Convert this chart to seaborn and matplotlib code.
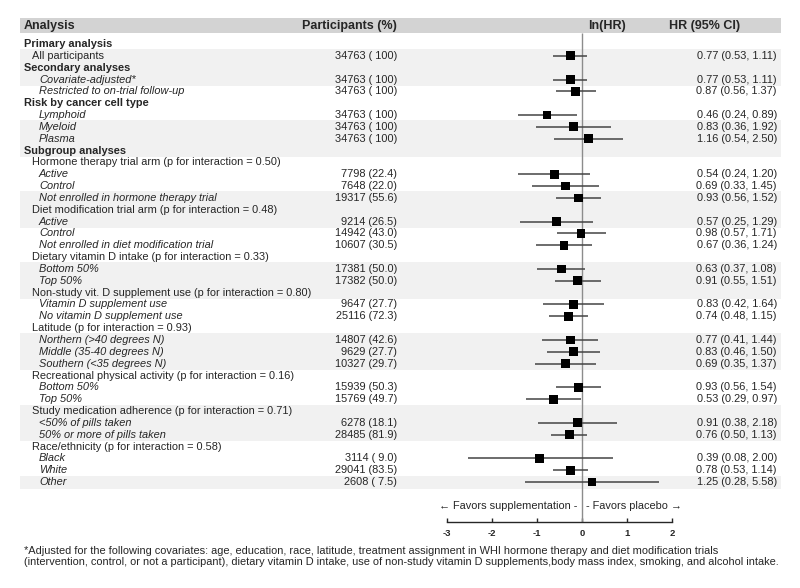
import numpy as np
import pandas as pd
import matplotlib
matplotlib.use("Agg")
import matplotlib.pyplot as plt
import matplotlib.transforms as mtransforms
import seaborn as sns

sns.set_style("white")
plt.rcParams['font.family'] = ['Liberation Sans', 'DejaVu Sans']

# ---- data ----
labels = [
    "Primary analysis", "All participants",
    "Secondary analyses", "Covariate-adjusted*", "Restricted to on-trial follow-up",
    "Risk by cancer cell type", "Lymphoid", "Myeloid", "Plasma",
    "Subgroup analyses",
    "Hormone therapy trial arm (p for interaction = 0.50)",
    "Active", "Control", "Not enrolled in hormone therapy trial",
    "Diet modification trial arm (p for interaction = 0.48)",
    "Active", "Control", "Not enrolled in diet modification trial",
    "Dietary vitamin D intake (p for interaction = 0.33)",
    "Bottom 50%", "Top 50%",
    "Non-study vit. D supplement use (p for interaction = 0.80)",
    "Vitamin D supplement use", "No vitamin D supplement use",
    "Latitude (p for interaction = 0.93)",
    "Northern (>40 degrees N)", "Middle (35-40 degrees N)", "Southern (<35 degrees N)",
    "Recreational physical activity (p for interaction = 0.16)",
    "Bottom 50%", "Top 50%",
    "Study medication adherence (p for interaction = 0.71)",
    "<50% of pills taken", "50% or more of pills taken",
    "Race/ethnicity (p for interaction = 0.58)",
    "Black", "White", "Other",
]
# b = bold heading, n = plain (indented), i = italic item
styles = list("bnbiibiiibniiiniiiniiniiniiiniiniiniii")

participants = [
    "", "34763 ( 100)", "", "34763 ( 100)", "34763 ( 100)",
    "", "34763 ( 100)", "34763 ( 100)", "34763 ( 100)", "",
    "", "7798 (22.4)", "7648 (22.0)", "19317 (55.6)",
    "", "9214 (26.5)", "14942 (43.0)", "10607 (30.5)",
    "", "17381 (50.0)", "17382 (50.0)",
    "", "9647 (27.7)", "25116 (72.3)",
    "", "14807 (42.6)", "9629 (27.7)", "10327 (29.7)",
    "", "15939 (50.3)", "15769 (49.7)",
    "", "6278 (18.1)", "28485 (81.9)",
    "", "3114 ( 9.0)", "29041 (83.5)", "2608 ( 7.5)",
]

nan = np.nan
hr = [nan, 0.77, nan, 0.77, 0.87, nan, 0.46, 0.83, 1.16, nan,
      nan, 0.54, 0.69, 0.93, nan, 0.57, 0.98, 0.67, nan, 0.63, 0.91,
      nan, 0.83, 0.74, nan, 0.77, 0.83, 0.69, nan, 0.93, 0.53,
      nan, 0.91, 0.76, nan, 0.39, 0.78, 1.25]
ci_low = [nan, 0.53, nan, 0.53, 0.56, nan, 0.24, 0.36, 0.54, nan,
          nan, 0.24, 0.33, 0.56, nan, 0.25, 0.57, 0.36, nan, 0.37, 0.55,
          nan, 0.42, 0.48, nan, 0.41, 0.46, 0.35, nan, 0.56, 0.29,
          nan, 0.38, 0.50, nan, 0.08, 0.53, 0.28]
ci_high = [nan, 1.11, nan, 1.11, 1.37, nan, 0.89, 1.92, 2.50, nan,
           nan, 1.20, 1.45, 1.52, nan, 1.29, 1.71, 1.24, nan, 1.08, 1.51,
           nan, 1.64, 1.15, nan, 1.44, 1.50, 1.37, nan, 1.54, 0.97,
           nan, 2.18, 1.13, nan, 2.00, 1.14, 5.58]

x_ticks = [-3, -2, -1, 0, 1, 2]

df = pd.DataFrame({"label": labels, "style": styles, "n": participants,
                   "hr": hr, "lo": ci_low, "hi": ci_high})
df["row"] = np.arange(len(df))
df["lnhr"] = np.log(df["hr"])
df["lnlo"] = np.log(df["lo"])
df["lnhi"] = np.log(df["hi"])

# ---- layout (pixel geometry of an 800x588 canvas) ----
W, H = 800, 588
y0, dy = 44, 11.84          # first row centre / row pitch in px
x0, dx = 582, 45            # ln(HR)=0 position / px per unit
FS = 7.9

fig = plt.figure(figsize=(8, 5.88), dpi=100)
ax = fig.add_axes([0, 0, 1, 1])
ax.set_xlim(-x0 / dx, (W - x0) / dx)
ax.set_ylim((H - y0) / dy, -y0 / dy)
ax.patch.set_alpha(0)

def prow(px):
    return (px - y0) / dy

tr = mtransforms.blended_transform_factory(ax.transAxes, ax.transData)
fx = lambda px: px / W

# header band and zebra stripes
ax.axhspan(prow(18), prow(33), xmin=fx(20), xmax=fx(781), color="#d3d3d3", lw=0, zorder=0)
for r in df["row"]:
    if ((r - 1) // 3) % 2 == 0 and r >= 1:
        ax.axhspan(r - 0.55, r + 0.55, xmin=fx(20), xmax=fx(781), color="#f1f1f1", lw=0, zorder=0)

hdr_y = prow(25.5)
hkw = dict(transform=tr, fontsize=9, fontweight="bold", va="center")
ax.text(fx(24), hdr_y, "Analysis", ha="left", **hkw)
ax.text(fx(397), hdr_y, "Participants (%)", ha="right", **hkw)
ax.text(fx(588), hdr_y, "ln(HR)", ha="left", **hkw)
ax.text(fx(669), hdr_y, "HR (95% CI)", ha="left", **hkw)

# reference line at ln(HR) = 0
axis_row = prow(522)
ax.vlines(0, prow(33), axis_row, color="#8c8c8c", lw=1.0, zorder=1)

# label / participant / HR columns
for _, d in df.iterrows():
    if d["style"] == "b":
        ax.text(fx(24), d["row"], d["label"], transform=tr, fontsize=FS,
                fontweight="bold", va="center")
    elif d["style"] == "n":
        ax.text(fx(32), d["row"], d["label"], transform=tr, fontsize=FS, va="center")
    else:
        ax.text(fx(39), d["row"], d["label"], transform=tr, fontsize=FS,
                style="italic", va="center")
    if d["n"]:
        ax.text(fx(397), d["row"], d["n"], transform=tr, fontsize=FS,
                ha="right", va="center")
    if not np.isnan(d["hr"]):
        ax.text(fx(777), d["row"], f"{d['hr']:.2f} ({d['lo']:.2f}, {d['hi']:.2f})",
                transform=tr, fontsize=FS, ha="right", va="center")

# confidence intervals and point estimates
est = df.dropna(subset=["hr"])
ax.hlines(est["row"], est["lnlo"], est["lnhi"], color="#444444", lw=1.1, zorder=2)
sns.scatterplot(data=est, x="lnhr", y="row", marker="s", s=40, color="black",
                edgecolor="none", ax=ax, zorder=3, legend=False)

# favors labels
fav_y = prow(506)
ax.text(-0.1, fav_y, "\u2190 Favors supplementation -", fontsize=FS, ha="right", va="center")
ax.text(0.09, fav_y, "- Favors placebo \u2192", fontsize=FS, ha="left", va="center")

# x axis
for s in ["top", "left", "right"]:
    ax.spines[s].set_visible(False)
ax.spines["bottom"].set_position(("data", axis_row))
ax.spines["bottom"].set_bounds(x_ticks[0], x_ticks[-1])
ax.spines["bottom"].set_linewidth(1.0)
ax.set_xticks(x_ticks)
ax.set_xticklabels([str(t) for t in x_ticks], fontsize=6.8, fontweight="bold")
ax.tick_params(axis="x", direction="in", length=3, width=1, pad=5, bottom=True)
ax.set_yticks([])
ax.set_xlabel("")
ax.set_ylabel("")

# footnote
fig.text(fx(24), 1 - 551 / H,
         "*Adjusted for the following covariates: age, education, race, latitude, treatment assignment in WHI hormone therapy and diet modification trials",
         fontsize=FS, va="center", ha="left")
fig.text(fx(24), 1 - 562 / H,
         "(intervention, control, or not a participant), dietary vitamin D intake, use of non-study vitamin D supplements,body mass index, smoking, and alcohol intake.",
         fontsize=FS, va="center", ha="left")

fig.savefig("out.png", dpi=100)
